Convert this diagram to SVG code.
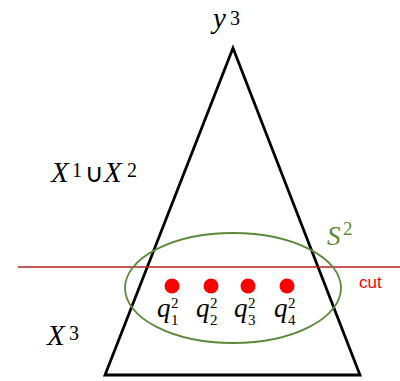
<svg xmlns="http://www.w3.org/2000/svg" width="400" height="381" viewBox="0 0 400 381">
<style>
.m{font-family:"Liberation Serif","DejaVu Serif",serif;font-style:italic;font-size:29px;fill:#000}
.s{font-family:"Liberation Serif","DejaVu Serif",serif;font-size:20px;fill:#000}
.q{font-family:"Liberation Serif","DejaVu Serif",serif;font-style:italic;font-size:27px;fill:#000}
.qs{font-family:"Liberation Serif","DejaVu Serif",serif;font-size:15px;fill:#000}
.dot{fill:#FF0000}
</style>
<rect width="400" height="381" fill="#fff"/>
<g id="triangle"><polygon points="233,48 105,375 360,375" fill="none" stroke="#000" stroke-width="2.8"/></g>
<g id="connectors">
<line x1="18" y1="267" x2="400" y2="267" stroke="#B02020" stroke-width="1.5"/>
</g>
<g id="S2"><ellipse cx="233" cy="288" rx="108" ry="55" fill="none" stroke="#5B8A3A" stroke-width="1.8"/>
<text x="327" y="245" font-family="Liberation Serif,serif" font-style="italic" font-size="27" fill="#5B8A3A">S</text>
<text x="343" y="235" font-family="Liberation Serif,serif" font-size="19" fill="#5B8A3A">2</text></g>
<g id="y3"><text class="m" x="213" y="28">y</text><text class="s" x="230" y="25">3</text></g>
<g id="X12"><text class="m" x="51" y="182">X</text><text class="s" x="72" y="177">1</text>
<text x="85" y="182" font-family="DejaVu Sans,sans-serif" font-size="26">∪</text>
<text class="m" x="104" y="182">X</text><text class="s" x="127" y="177">2</text></g>
<g id="X3"><text class="m" x="47" y="345">X</text><text class="s" x="69" y="340">3</text></g>
<g id="q1"><circle class="dot" cx="172" cy="286" r="7.5"/><text class="q" x="157" y="317">q</text><text class="qs" x="171" y="308">2</text><text class="qs" x="171" y="325">1</text></g>
<g id="q2"><circle class="dot" cx="211" cy="286" r="7.5"/><text class="q" x="196" y="317">q</text><text class="qs" x="210" y="308">2</text><text class="qs" x="210" y="325">2</text></g>
<g id="q3"><circle class="dot" cx="248" cy="286" r="7.5"/><text class="q" x="234" y="317">q</text><text class="qs" x="248" y="308">2</text><text class="qs" x="248" y="325">3</text></g>
<g id="q4"><circle class="dot" cx="287" cy="286" r="7.5"/><text class="q" x="274" y="317">q</text><text class="qs" x="288" y="308">2</text><text class="qs" x="288" y="325">4</text></g>
<g id="cut"><text x="359" y="288" font-family="Liberation Sans,Arial,sans-serif" font-size="17" fill="#FF0000">cut</text></g>
</svg>
